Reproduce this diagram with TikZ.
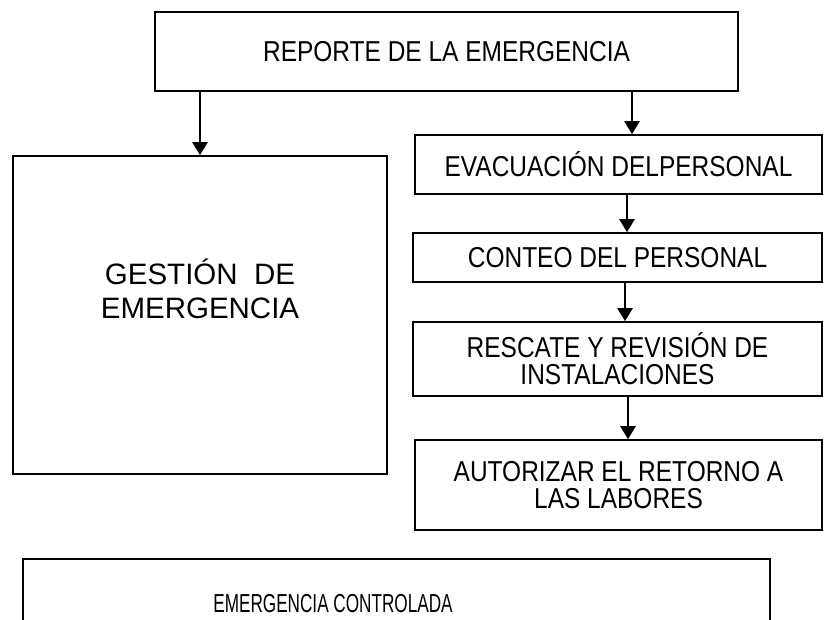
\documentclass[tikz,border=0pt]{standalone}
\usepackage{fontspec}
\setmainfont{Liberation Sans}
\newfontfamily\narrowfont[FakeStretch=0.85]{Liberation Sans}
\newfontfamily\condfont[FakeStretch=0.66]{Liberation Sans}
\usetikzlibrary{arrows.meta,positioning}

\begin{document}
\begin{tikzpicture}[x=1pt,y=-1pt,
  box/.style={draw,line width=1.6pt,inner sep=0pt,align=center,
    font=\narrowfont\fontsize{28.8}{27}\selectfont},
  arr/.style={line width=2.4pt,-{Triangle[width=15pt,length=13pt]}}]
 \useasboundingbox (0,0) rectangle (824,619);
 \clip (0,0) rectangle (824,619);
 % report
 \node[box,minimum width=583,minimum height=79] (reporte) at (446.5,51.5) {REPORTE DE LA EMERGENCIA};
 % left branch
 \node[box,minimum width=374,minimum height=318] (gestion) at (200,315) {};
 \node[align=center,font=\fontsize{29.5}{34}\selectfont] (gestiontxt) at (200,289) {GESTIÓN\ \ DE\\EMERGENCIA};
 % right branch
 \node[box,minimum width=407,minimum height=59] (evac) at (618.5,164.5) {EVACUACIÓN DELPERSONAL};
 \node[box,minimum width=409,minimum height=49] (conteo) at (617.5,257.5) {CONTEO DEL PERSONAL};
 \node[box,minimum width=409,minimum height=74] (rescate) at (617.5,359) {RESCATE Y REVISIÓN DE\\INSTALACIONES};
 \node[box,minimum width=407,minimum height=90] (autorizar) at (618.5,485) {AUTORIZAR EL RETORNO A\\LAS LABORES};
 % end
 \draw[line width=1.6pt] (23,640) -- (23,559) -- (770,559) -- (770,640);
 \node[inner sep=0pt,font=\condfont\fontsize{26}{28}\selectfont] (controlada) at (333,604) {EMERGENCIA CONTROLADA};
 % arrows
 \coordinate (xl) at (200,0);
 \coordinate (xr) at (632,0);
 \coordinate (x1) at (627,0);
 \coordinate (x2) at (625,0);
 \coordinate (x3) at (628,0);
 \draw[arr] (reporte.south -| xl) -- (gestion.north -| xl);
 \draw[arr] (reporte.south -| xr) -- (evac.north -| xr);
 \draw[arr] (evac.south -| x1) -- (conteo.north -| x1);
 \draw[arr] (conteo.south -| x2) -- (rescate.north -| x2);
 \draw[arr] (rescate.south -| x3) -- (autorizar.north -| x3);
\end{tikzpicture}
\end{document}
